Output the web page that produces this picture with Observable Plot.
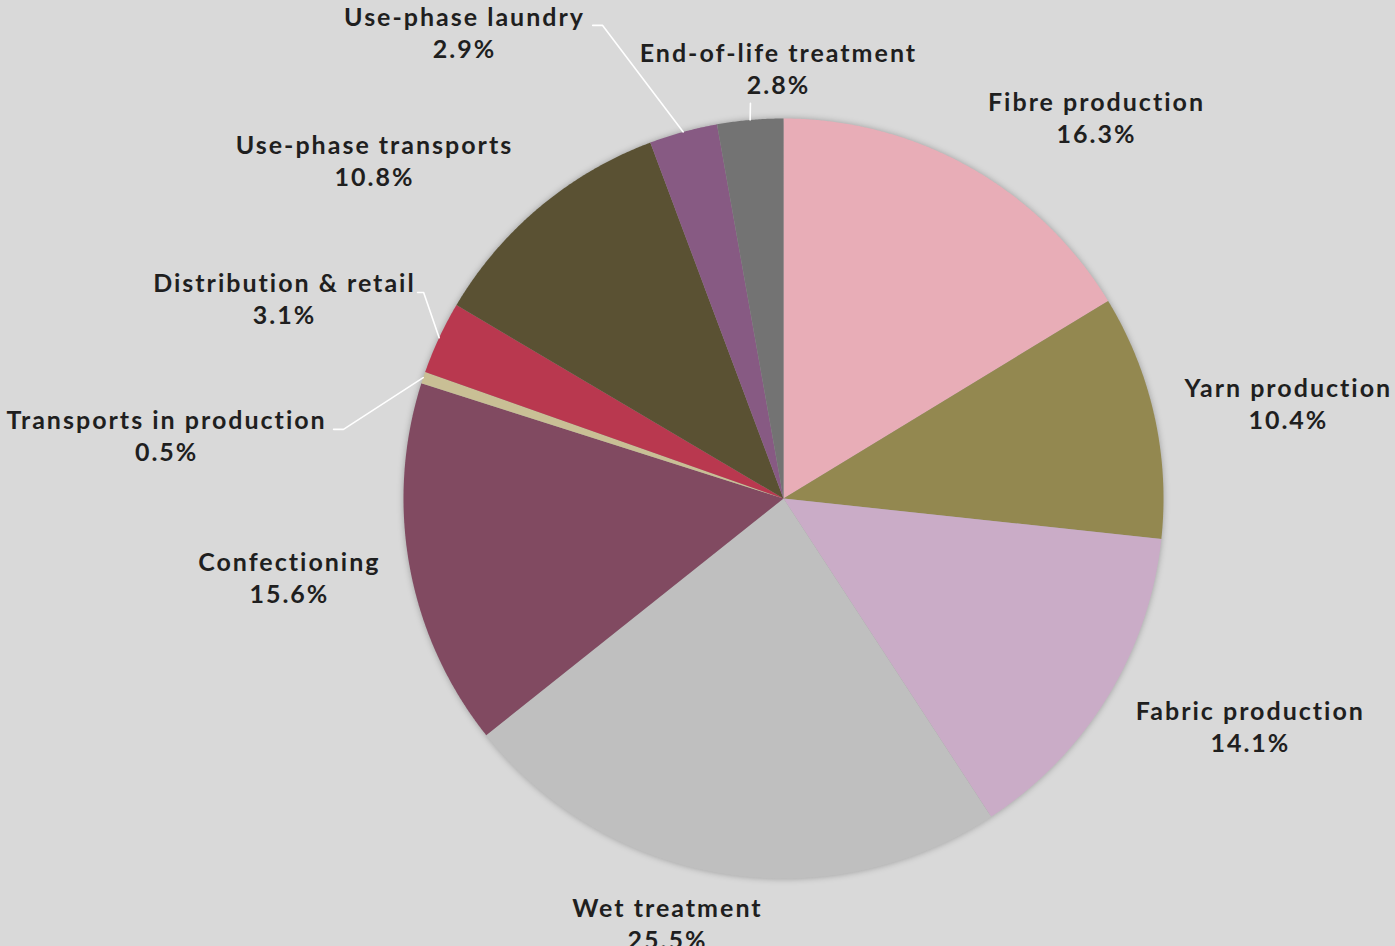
<!DOCTYPE html>
<html>
<head>
<meta charset="utf-8">
<script src="https://cdn.jsdelivr.net/npm/d3@7"></script>
<script src="https://cdn.jsdelivr.net/npm/@observablehq/plot@0.6"></script>
<style>
  html, body { margin: 0; padding: 0; background: #d9d9d9; }
</style>
</head>
<body>
<div id="chart"></div>
<script>
// ---- data (clockwise from 12 o'clock) ----
const categories = [
  "Fibre production", "Yarn production", "Fabric production", "Wet treatment",
  "Confectioning", "Transports in production", "Distribution & retail",
  "Use-phase transports", "Use-phase laundry", "End-of-life treatment"
];
// share of the circle as drawn in the picture (the Wet treatment wedge is drawn at ~23.5%)
const shares = [16.3, 10.4, 14.1, 23.5, 15.6, 0.5, 3.1, 10.8, 2.9, 2.8];
// percentage labels as printed
const pctLabels = ["16.3%", "10.4%", "14.1%", "25.5%", "15.6%", "0.5%", "3.1%", "10.8%", "2.9%", "2.8%"];
const colors = ["#e8adb7", "#938850", "#caacc7", "#bfbfbf", "#814a61",
                "#c9bf95", "#b9384f", "#5a5133", "#875a83", "#737373"];

// ---- layout (in pie-radius units, relative to the pie centre, y down) ----
const labelXY = [
  [0.821, -1.0], [1.326, -0.246], [1.226, 0.603], [-0.308, 1.121], [-1.303, 0.211],
  [-1.626, -0.163], [-1.316, -0.524], [-1.079, -0.887], [-0.842, -1.222], [-0.016, -1.129]
];
// leader line start + elbow for small slices
const leaders = {
  "Use-phase laundry":        [[-0.502, -1.245], [-0.476, -1.245]],
  "End-of-life treatment":    [[-0.087, -1.040], [-0.087, -1.040]],
  "Distribution & retail":    [[-0.963, -0.542], [-0.947, -0.542]],
  "Transports in production": [[-1.184, -0.182], [-1.158, -0.182]]
};

const total = d3.sum(shares);
const pt = (a, r = 1) => [r * Math.sin(a), -r * Math.cos(a)];

let cum = 0;
const slices = categories.map((name, i) => {
  const a0 = cum / total * 2 * Math.PI;
  cum += shares[i];
  const a1 = cum / total * 2 * Math.PI;
  const n = Math.max(2, Math.ceil((a1 - a0) / (Math.PI / 720)));
  const ring = [[0, 0]];
  for (let k = 0; k <= n; k++) ring.push(pt(a0 + (a1 - a0) * k / n));
  ring.push([0, 0]);
  return {
    type: "Feature",
    properties: {name, mid: (a0 + a1) / 2},
    geometry: {type: "Polygon", coordinates: [ring]}
  };
});

const labels = categories.map((name, i) => ({
  name, text: name + "\n" + pctLabels[i], x: labelXY[i][0], y: labelXY[i][1]
}));

const leaderPts = [];
slices.forEach(s => {
  const L = leaders[s.properties.name];
  if (!L) return;
  const edge = pt(s.properties.mid, 1.0);
  [L[0], L[1], edge].forEach(p => leaderPts.push({name: s.properties.name, x: p[0], y: p[1]}));
});

const W = 1395, H = 946, cx = 783, cy = 498, R = 380;

const chart = Plot.plot({
  width: W,
  height: H,
  marginLeft: cx - R,
  marginRight: W - (cx + R),
  marginTop: cy - R,
  marginBottom: H - (cy + R),
  projection: {
    type: "identity",
    domain: {type: "MultiPoint", coordinates: [[-1, -1], [1, 1]]},
    clip: false
  },
  color: {domain: categories, range: colors},
  style: {
    background: "#d9d9d9",
    fontFamily: "Lato, 'Open Sans', sans-serif",
    letterSpacing: "2px",
    overflow: "visible"
  },
  marks: [
    Plot.geo(slices, {
      fill: d => d.properties.name,
      stroke: "none",
      imageFilter: "drop-shadow(0px 0px 3px rgba(0,0,0,0.28))"
    }),
    Plot.line(leaderPts, {x: "x", y: "y", z: "name", stroke: "white", strokeWidth: 1.6}),
    Plot.text(labels, {
      x: "x", y: "y", text: "text",
      fontSize: 25, fontWeight: 700, fill: "#1f1f1f",
      lineHeight: 1.28, textAnchor: "middle", dx: 1, dy: -2
    })
  ]
});

document.getElementById("chart").appendChild(chart);
</script>
</body>
</html>
